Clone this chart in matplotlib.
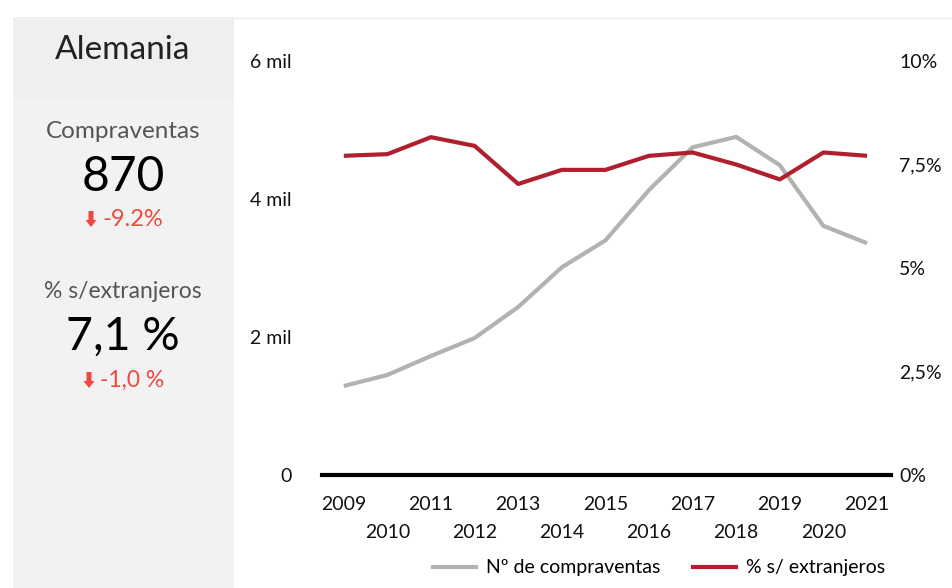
import matplotlib
matplotlib.use("Agg")
import matplotlib.pyplot as plt
from matplotlib.patches import Rectangle, Polygon
from matplotlib.lines import Line2D
from matplotlib.ticker import FixedLocator, FuncFormatter

plt.rcParams["font.family"] = ["Lato", "DejaVu Sans"]

# datos anuales
years = [2009, 2010, 2011, 2012, 2013, 2014, 2015, 2016, 2017, 2018, 2019, 2020, 2021]
compraventas = [1290, 1450, 1725, 1985, 2435, 3010, 3400, 4130, 4750, 4900, 4490, 3610, 3360]
pct_extranjeros = [7.71, 7.75, 8.16, 7.95, 7.03, 7.37, 7.37, 7.71, 7.79, 7.50, 7.14, 7.79, 7.71]

left_ticks = [0, 2000, 4000, 6000]
right_ticks = [0, 2.5, 5, 7.5, 10]
right_labels = ["0%", "2,5%", "5%", "7,5%", "10%"]

country = "Alemania"
kpi_sales = "870"
kpi_sales_delta = "-9.2%"
kpi_share = "7,1 %"
kpi_share_delta = "-1,0 %"

GRAY = "#b2b2b2"
RED = "#b01f2e"
DELTA_RED = "#f0483e"
TICK_SIZE = 14

W, H = 952, 588
fig = plt.figure(figsize=(W / 100, H / 100), dpi=100)


def fx(px):
    return px / W


def fy(py):
    return 1 - py / H


# panel lateral
fig.patches.append(Rectangle((fx(13), 0), fx(221), fy(17), transform=fig.transFigure,
                             facecolor="#f2f2f2", edgecolor="none", zorder=0))
fig.patches.append(Rectangle((fx(13), fy(98)), fx(221), fy(17) - fy(98), transform=fig.transFigure,
                             facecolor="#efefef", edgecolor="none", zorder=0))
fig.add_artist(Line2D([fx(234), 1], [fy(18), fy(18)], transform=fig.transFigure,
                      color="#ececec", lw=1))

cx = fx(123)
fig.text(cx, fy(50), country, ha="center", va="center", fontsize=24, color="#222222")
fig.text(cx, fy(131), "Compraventas", ha="center", va="center", fontsize=17.5, color="#555555")
fig.text(cx, fy(177), kpi_sales, ha="center", va="center", fontsize=34.5, color="#000000")
fig.text(fx(102), fy(219), kpi_sales_delta, ha="left", va="center", fontsize=17, color=DELTA_RED)
fig.text(cx, fy(291), "% s/extranjeros", ha="center", va="center", fontsize=16.5, color="#555555")
fig.text(cx, fy(337), kpi_share, ha="center", va="center", fontsize=33.5, color="#000000")
fig.text(fx(100), fy(380), kpi_share_delta, ha="left", va="center", fontsize=16.5, color=DELTA_RED)


def down_arrow(x, y):
    # flecha roja hacia abajo junto a la variación
    pts = [(x - 2.5, y - 8), (x + 2.5, y - 8), (x + 2.5, y + 1), (x + 5.5, y + 1),
           (x, y + 8), (x - 5.5, y + 1), (x - 2.5, y + 1)]
    fig.patches.append(Polygon([(fx(a), fy(b)) for a, b in pts], closed=True,
                               transform=fig.transFigure, facecolor=DELTA_RED, edgecolor="none"))


down_arrow(91, 219)
down_arrow(89, 380)

# gráfico
ax = fig.add_axes([fx(322), fy(475), fx(891) - fx(322), fy(61) - fy(475)])
ax2 = ax.twinx()

ax.plot(years, compraventas, color=GRAY, lw=3, solid_capstyle="butt")
ax2.plot(years, pct_extranjeros, color=RED, lw=3, solid_capstyle="butt")

ax.set_xlim(2008.5, 2021.55)
ax.set_ylim(0, 6000)
ax2.set_ylim(0, 10)

for a in (ax, ax2):
    for s in a.spines.values():
        s.set_visible(False)
    a.patch.set_visible(False)
ax.axhline(0, color="black", lw=3, clip_on=False, zorder=5)

ax.yaxis.set_major_locator(FixedLocator(left_ticks))
ax.yaxis.set_major_formatter(FuncFormatter(lambda v, p: "0" if v == 0 else f"{v / 1000:.0f} mil"))
ax.tick_params(axis="y", length=0, pad=22, labelsize=TICK_SIZE, labelcolor="#111111")

ax2.yaxis.set_major_locator(FixedLocator(right_ticks))
ax2.set_yticklabels(right_labels)
ax2.tick_params(axis="y", length=0, pad=6, labelsize=TICK_SIZE, labelcolor="#111111")

# años alternos en dos filas
ax.xaxis.set_major_locator(FixedLocator(years[0::2]))
ax.xaxis.set_minor_locator(FixedLocator(years[1::2]))
ax.xaxis.set_major_formatter(FuncFormatter(lambda v, p: f"{int(v)}"))
ax.xaxis.set_minor_formatter(FuncFormatter(lambda v, p: f"{int(v)}"))
ax.tick_params(axis="x", which="major", length=0, pad=15, labelsize=TICK_SIZE, labelcolor="#111111")
ax.tick_params(axis="x", which="minor", length=0, pad=35, labelsize=TICK_SIZE, labelcolor="#111111")

handles = [Line2D([], [], color=GRAY, lw=3), Line2D([], [], color=RED, lw=3)]
fig.legend(handles, ["Nº de compraventas", "% s/ extranjeros"], loc="center",
           bbox_to_anchor=(fx(659), fy(568)), ncol=2, frameon=False, fontsize=TICK_SIZE,
           handlelength=2.2, handletextpad=0.5, columnspacing=1.7)

fig.savefig("out.png", dpi=100)
